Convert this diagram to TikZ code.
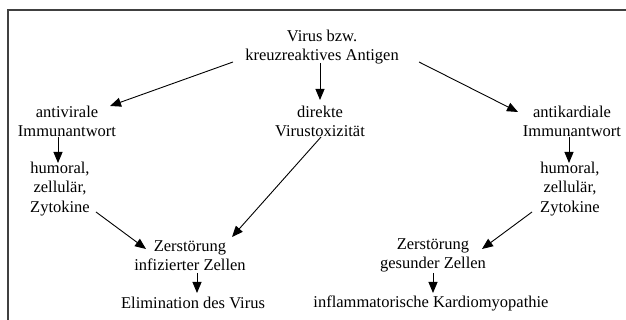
\documentclass[tikz,border=0pt]{standalone}
\usepackage{fontspec}
\setmainfont{Liberation Serif}
\usetikzlibrary{arrows.meta,calc}
\begin{document}
\begin{tikzpicture}[x=1pt,y=1pt,
  lbl/.style={inner sep=0pt,align=center,font=\fontsize{16.5}{19.5}\selectfont},
  arr/.style={line width=0.9pt,-{Triangle[length=11pt,width=9pt]}},
  frame/.style={line width=1.6pt,draw=black!75}]
\useasboundingbox (0,0) rectangle (626,320);
\draw[frame] (8,0) -- (8,310) -- (626,310);
\node[lbl] (top) at (322,273) {Virus bzw.\\kreuzreaktives Antigen};
\node[lbl] (av) at (67,198.5) {antivirale\\Immunantwort};
\node[lbl] (dv) at (320,198.5) {direkte\\Virustoxizität};
\node[lbl] (ak) at (572,198.5) {antikardiale\\Immunantwort};
\node[lbl] (hl) at (60,131) {humoral,\\zellulär,\\Zytokine};
\node[lbl] (hr) at (570,131) {humoral,\\zellulär,\\Zytokine};
\node[lbl] (zi) at (190,64.5) {Zerstörung\\infizierter Zellen};
\node[lbl] (el) at (193,17) {Elimination des Virus};
\node[lbl] (zg) at (433,64.5) {Zerstörung\\gesunder Zellen};
\node[lbl] (ik) at (431,17) {inflammatorische Kardiomyopathie};
\draw[arr] ($(top)+(-89,-15)$) -- ($(av)+(43,15.5)$);
\draw[arr] ($(top)+(-2,-16)$) -- ($(dv)+(0,21.5)$);
\draw[arr] ($(top)+(97,-15)$) -- ($(ak)+(-54,9.5)$);
\draw[arr] ($(av)+(-9,-15.5)$) -- ($(hl)+(-2,26)$);
\draw[arr] ($(ak)+(-3,-15.5)$) -- ($(hr)+(-1,26)$);
\draw[arr] ($(hl)+(36,-23)$) -- ($(zi)+(-44,6.5)$);
\draw[arr] ($(dv)+(1,-15.5)$) -- ($(zi)+(42,18.5)$);
\draw[arr] ($(zi)+(7,-17.5)$) -- ($(el)+(4,10)$);
\draw[arr] ($(hr)+(-38,-23)$) -- ($(zg)+(49,6.5)$);
\draw[arr] ($(zg)+(0,-17.5)$) -- ($(ik)+(2,10)$);
\end{tikzpicture}
\end{document}
